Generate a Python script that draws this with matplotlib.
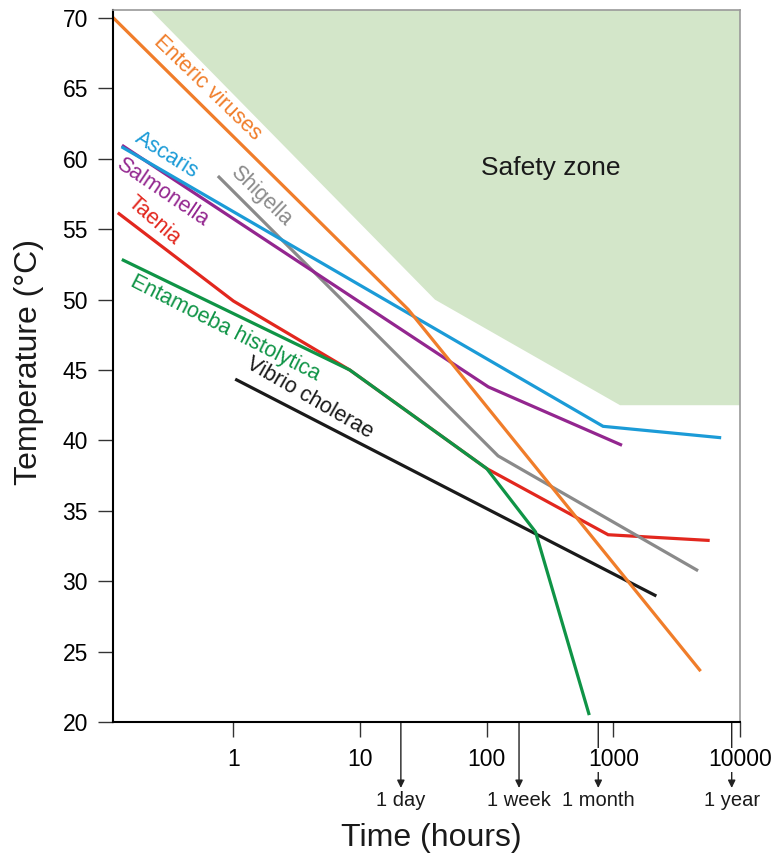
import matplotlib
matplotlib.use('Agg')
import matplotlib.pyplot as plt
from matplotlib.transforms import blended_transform_factory

plt.rcParams['font.family'] = ['Liberation Sans', 'DejaVu Sans']

# ---------------- data ----------------
enteric_x = [0.113, 24, 4800]
enteric_y = [70.0, 49.3, 23.7]
ascaris_x = [0.134, 830, 6900]
ascaris_y = [60.8, 41.0, 40.2]
salmonella_x = [0.135, 103, 1140]
salmonella_y = [60.9, 43.8, 39.7]
shigella_x = [0.77, 123, 4550]
shigella_y = [58.7, 38.9, 30.8]
taenia_x = [0.125, 1.0, 8.3, 100, 910, 5600]
taenia_y = [56.1, 49.9, 45.0, 38.0, 33.3, 32.9]
entamoeba_x = [0.135, 8.3, 100, 243, 640]
entamoeba_y = [52.8, 45.0, 38.0, 33.5, 20.6]
vibrio_x = [1.06, 2130]
vibrio_y = [44.3, 29.0]

safety_x = [0.22, 39, 1130, 10000, 10000]
safety_y = [70.6, 50.0, 42.5, 42.5, 70.6]

xticks = [1, 10, 100, 1000, 10000]
xtick_labels = ['1', '10', '100', '1000', '10000']
yticks = [20, 25, 30, 35, 40, 45, 50, 55, 60, 65, 70]
period_x = [21, 180, 760, 8600]
period_labels = ['1 day', '1 week', '1 month', '1 year']

# ---------------- figure ----------------
W, H = 773, 859
fig = plt.figure(figsize=(W / 100, H / 100), dpi=100)
L, R, T, B = 113, 740, 10, 722
ax = fig.add_axes([L / W, 1 - B / H, (R - L) / W, (B - T) / H])
ax.set_xscale('log')
ax.set_xlim(0.112, 10000)
ax.set_ylim(20, 70.57)


def px2ax(px, py):
    return (px - L) / (R - L), (B - py) / (B - T)


ax.fill(safety_x, safety_y, color='#d3e6c9', lw=0, zorder=0.5)

series = [
    (taenia_x, taenia_y, '#e2271e'),
    (vibrio_x, vibrio_y, '#1a1a1a'),
    (shigella_x, shigella_y, '#8a8a8a'),
    (salmonella_x, salmonella_y, '#93268f'),
    (ascaris_x, ascaris_y, '#1b9bd7'),
    (entamoeba_x, entamoeba_y, '#0f9446'),
    (enteric_x, enteric_y, '#f07d2a'),
]
for xs, ys, c in series:
    ax.plot(xs, ys, color=c, lw=2.3, solid_joinstyle='miter', zorder=2)

labels = [
    ('Enteric viruses', 207, 88, -44, '#f07d2a'),
    ('Ascaris', 166.7, 155, -32, '#1b9bd7'),
    ('Salmonella', 161.7, 191.7, -34, '#93268f'),
    ('Taenia', 154, 221, -41, '#e2271e'),
    ('Shigella', 261, 196, -44, '#8a8a8a'),
    ('Entamoeba histolytica', 225, 328, -27, '#0f9446'),
    ('Vibrio cholerae', 310, 397.5, -30, '#1a1a1a'),
]
for txt, px, py, rot, c in labels:
    xa, ya = px2ax(px, py)
    ax.text(xa, ya, txt, transform=ax.transAxes, rotation=rot,
            rotation_mode='anchor', ha='center', va='center',
            fontsize=15.5, color=c)

xa, ya = px2ax(551, 168)
ax.text(xa, ya, 'Safety zone', transform=ax.transAxes, ha='center',
        va='center', fontsize=19, color='#1a1a1a')

# spines
for s in ['left', 'bottom']:
    ax.spines[s].set_color('black')
    ax.spines[s].set_linewidth(1.5)
for s in ['top', 'right']:
    ax.spines[s].set_color('#9a9a9a')
    ax.spines[s].set_linewidth(1.2)

ax.set_xticks(xticks)
ax.set_xticklabels(xtick_labels)
ax.xaxis.set_minor_locator(matplotlib.ticker.NullLocator())
ax.set_yticks(yticks)
ax.set_yticklabels([str(v) for v in yticks])
ax.tick_params(axis='x', direction='out', length=11, width=1, pad=8,
               labelsize=16.5, color='#333333')
ax.tick_params(axis='y', direction='out', length=11, width=1, pad=7,
               labelsize=16.5, color='#333333')
for lbl in ax.get_xticklabels():
    lbl.set_bbox(dict(facecolor='white', edgecolor='none', pad=0.5))

trans = blended_transform_factory(ax.transData, ax.transAxes)
tip_y = (B - 788) / (B - T)
lab_y = (B - 801) / (B - T)
for xv, lab in zip(period_x, period_labels):
    ax.annotate('', xy=(xv, tip_y), xytext=(xv, 0), xycoords=trans,
                textcoords=trans, annotation_clip=False, zorder=1,
                arrowprops=dict(arrowstyle='-|>,head_length=0.45,head_width=0.22',
                                lw=1.0, color='#222222', shrinkA=0, shrinkB=0))
    ax.text(xv, lab_y, lab, transform=trans, ha='center', va='center',
            fontsize=14.5, color='#1a1a1a')

xa, ya = px2ax(431, 838)
ax.text(xa, ya, 'Time (hours)', transform=ax.transAxes, ha='center',
        va='center', fontsize=23, color='#1a1a1a')
xa, ya = px2ax(29, 362)
ax.text(xa, ya, 'Temperature (°C)', transform=ax.transAxes, ha='center',
        va='center', rotation=90, fontsize=23, color='#1a1a1a')

fig.savefig('out.png', dpi=100)
